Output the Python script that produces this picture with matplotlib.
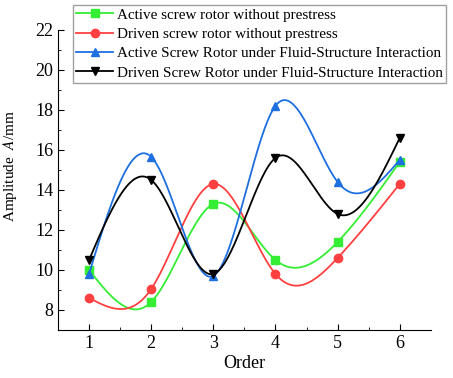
import matplotlib.pyplot as plt
import numpy as np

plt.rcParams['font.family'] = ['Liberation Serif', 'DejaVu Serif']
plt.rcParams['mathtext.fontset'] = 'stix'

order = [1, 2, 3, 4, 5, 6]
active_no_pre = [10.0, 8.4, 13.3, 10.5, 11.4, 15.4]
driven_no_pre = [8.6, 9.05, 14.3, 9.8, 10.6, 14.3]
active_fsi = [9.8, 15.65, 9.7, 18.2, 14.4, 15.5]
driven_fsi = [10.5, 14.5, 9.8, 15.6, 12.8, 16.6]

labels = ["Active screw rotor without prestress",
          "Driven screw rotor without prestress",
          "Active Screw Rotor under Fluid-Structure Interaction",
          "Driven Screw Rotor under Fluid-Structure Interaction"]


def spline(x, y, n=300):
    # natural cubic spline through the points
    x = np.asarray(x, float)
    y = np.asarray(y, float)
    k = len(x)
    h = np.diff(x)
    A = np.zeros((k, k))
    b = np.zeros(k)
    A[0, 0] = 1
    A[-1, -1] = 1
    for i in range(1, k - 1):
        A[i, i - 1] = h[i - 1]
        A[i, i] = 2 * (h[i - 1] + h[i])
        A[i, i + 1] = h[i]
        b[i] = 6 * ((y[i + 1] - y[i]) / h[i] - (y[i] - y[i - 1]) / h[i - 1])
    m = np.linalg.solve(A, b)
    xs = np.linspace(x[0], x[-1], n)
    idx = np.clip(np.searchsorted(x, xs) - 1, 0, k - 2)
    x0, x1 = x[idx], x[idx + 1]
    hh = x1 - x0
    t0 = x1 - xs
    t1 = xs - x0
    ys = (m[idx] * t0 ** 3 / (6 * hh) + m[idx + 1] * t1 ** 3 / (6 * hh)
          + (y[idx] / hh - m[idx] * hh / 6) * t0
          + (y[idx + 1] / hh - m[idx + 1] * hh / 6) * t1)
    return xs, ys


fig = plt.figure(figsize=(4.53, 3.78), dpi=100)
ax = fig.add_axes([0.128, 0.127, 0.823, 0.794])

series = [(active_no_pre, '#33EE33', 's'),
          (driven_no_pre, '#FF4040', 'o'),
          (active_fsi, '#1E6FE0', '^'),
          (driven_fsi, '#000000', 'v')]
for (vals, c, mk), lab in zip(series, labels):
    xs, ys = spline(order, vals)
    ax.plot(xs, ys, color=c, lw=1.3)
    ax.plot(order, vals, linestyle='none', marker=mk, color=c, markersize=6)
    ax.plot([], [], color=c, marker=mk, markersize=6, lw=1.3, label=lab)

ax.set_xlim(0.5, 6.5)
ax.set_ylim(7, 22)
ax.set_xticks(order)
ax.set_xticks(np.arange(1.5, 6.5, 1), minor=True)
ax.set_yticks(np.arange(8, 23, 2))
ax.set_yticks(np.arange(9, 22, 2), minor=True)
ax.tick_params(direction='in', labelsize=13, length=4)
ax.tick_params(which='minor', direction='in', length=2.5)
ax.spines['top'].set_visible(False)
ax.spines['right'].set_visible(False)
ax.set_xlabel('Order', fontsize=13, labelpad=2)
ax.set_ylabel('Amplitude  $\\mathit{A}$/mm', fontsize=11)
ax.yaxis.set_label_coords(-0.105, 0.547)

fig.legend(loc='upper left', bbox_to_anchor=(0.161, 0.987), fontsize=10.9,
           frameon=True, fancybox=False, edgecolor='#888888',
           handlelength=2.45, handletextpad=0.25, borderpad=0.2,
           labelspacing=0.38, borderaxespad=0)

fig.savefig('out.png', dpi=100)
